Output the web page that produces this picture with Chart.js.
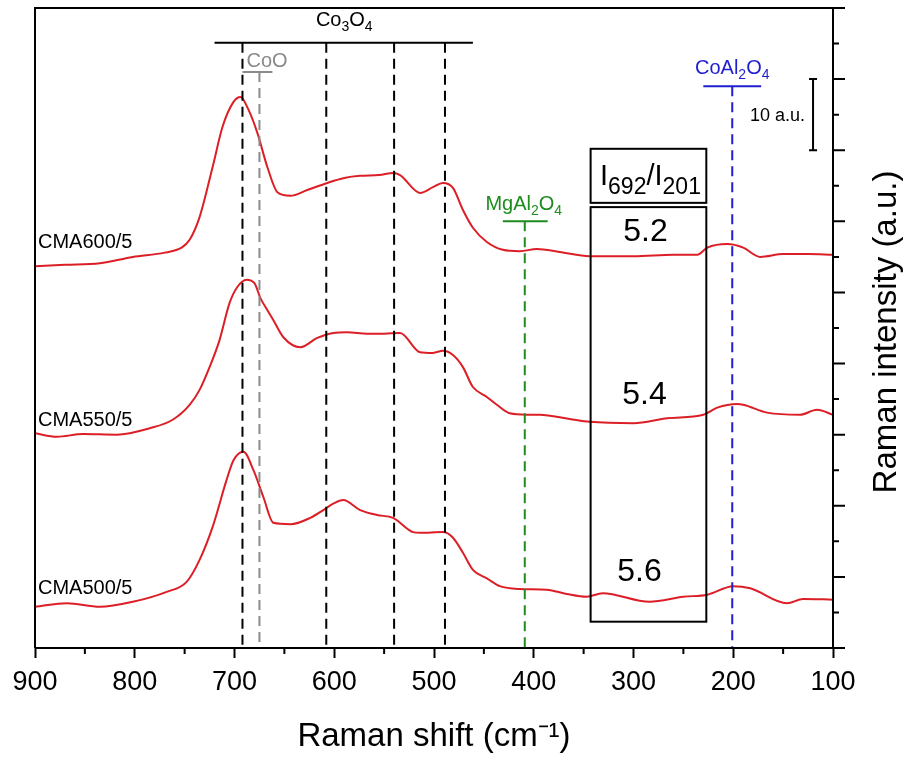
<!DOCTYPE html>
<html>
<head>
<meta charset="utf-8">
<script src="https://cdn.jsdelivr.net/npm/chart.js@4.4.0/dist/chart.umd.min.js"></script>
<style>
  html, body { margin: 0; padding: 0; background: #fff; }
  #wrap { width: 903px; height: 759px; }
</style>
</head>
<body>
<div id="wrap"><canvas id="raman" width="903" height="759"></canvas></div>
<script>
// spectra, stacking offset already included (a.u.)
const shift600 = [900, 870, 835, 802, 770, 753, 745, 735, 722, 712, 701, 694, 686, 677, 667, 657, 644, 627, 607, 590, 574, 555, 541, 534, 514, 501, 491, 481, 471, 461, 447, 431, 414, 397, 374, 344, 300, 260, 236, 226, 206, 190, 173, 150, 125, 100];
const int600 = [53.7, 53.9, 54.1, 55.0, 55.6, 56.3, 57.4, 60.6, 67.6, 73.3, 76.8, 77.5, 75.7, 72.4, 67.6, 64.1, 63.6, 64.4, 65.4, 66.1, 66.4, 66.5, 66.8, 66.5, 64.0, 64.8, 65.4, 64.7, 61.6, 59.1, 57.1, 56.0, 55.8, 56.1, 55.7, 55.1, 55.1, 55.3, 55.3, 56.3, 56.8, 56.3, 55.0, 55.4, 55.4, 55.3];

const shift550 = [900, 878, 852, 818, 785, 762, 745, 735, 725, 715, 705, 697, 688, 680, 674, 667, 661, 651, 634, 617, 601, 587, 567, 550, 534, 514, 501, 491, 481, 471, 461, 447, 437, 424, 407, 394, 364, 344, 300, 266, 230, 216, 196, 190, 166, 133, 116, 100];
const int550 = [30.2, 29.7, 30.1, 30.0, 30.9, 32.1, 34.2, 36.3, 39.5, 43.3, 48.5, 50.8, 51.8, 51.3, 49.2, 47.5, 46.1, 43.7, 42.3, 43.6, 44.3, 44.4, 44.2, 44.2, 44.3, 41.6, 41.5, 41.8, 41.2, 39.5, 36.7, 35.3, 34.2, 33.0, 32.8, 32.8, 32.2, 31.8, 31.6, 32.3, 32.8, 33.8, 34.3, 34.2, 33.1, 32.8, 33.5, 32.8];

const shift500 = [900, 868, 835, 802, 768, 748, 735, 722, 708, 701, 691, 681, 671, 661, 644, 624, 611, 601, 591, 574, 557, 541, 521, 514, 491, 481, 471, 461, 447, 434, 414, 387, 367, 347, 331, 284, 250, 226, 200, 183, 146, 130, 100];
const int500 = [5.8, 6.3, 5.8, 6.5, 7.9, 9.3, 12.4, 17.0, 23.6, 26.4, 27.6, 25.0, 21.2, 17.6, 17.4, 18.3, 19.4, 20.3, 20.8, 19.4, 18.7, 18.3, 16.3, 16.2, 16.3, 15.5, 13.4, 11.0, 9.8, 8.7, 8.3, 8.2, 7.6, 7.2, 7.7, 6.5, 7.2, 7.5, 8.7, 8.4, 6.3, 6.9, 6.8];

const sampleNames = ['CMA600/5', 'CMA550/5', 'CMA500/5'];
const ratioValues = ['5.2', '5.4', '5.6'];

// reference band positions (cm-1)
const co3o4Bands = [692, 608, 540, 489];
const cooBand = 675;
const mgal2o4Band = 409;
const coal2o4Band = 201;

const xTicks = [900, 800, 700, 600, 500, 400, 300, 200, 100];

const RED = '#dc1f26';
const FONT = '"Liberation Sans", Arial, sans-serif';

function pairs(xs, ys) {
  return xs.map((x, i) => ({ x: x, y: ys[i] }));
}

// draw a run of text pieces [text, size, dy] starting at a baseline
function richText(ctx, parts, x, y, color, align) {
  let w = 0;
  parts.forEach(p => { ctx.font = p[1] + 'px ' + FONT; w += ctx.measureText(p[0]).width; });
  let cx = align === 'center' ? x - w / 2 : (align === 'right' ? x - w : x);
  ctx.fillStyle = color;
  ctx.textAlign = 'left';
  ctx.textBaseline = 'alphabetic';
  parts.forEach(p => {
    ctx.font = p[1] + 'px ' + FONT;
    ctx.fillText(p[0], cx, y + (p[2] || 0));
    cx += ctx.measureText(p[0]).width;
  });
}

const decor = {
  id: 'decor',
  afterDatasetsDraw(chart) {
    const ctx = chart.ctx;
    const xs = chart.scales.x, ys = chart.scales.y;
    const a = chart.chartArea;
    const X = v => xs.getPixelForValue(v);
    const Y = v => ys.getPixelForValue(v);
    ctx.save();

    function hline(x1, x2, y, color) {
      ctx.setLineDash([]);
      ctx.strokeStyle = color; ctx.lineWidth = 2;
      ctx.beginPath(); ctx.moveTo(X(x1), Y(y)); ctx.lineTo(X(x2), Y(y)); ctx.stroke();
    }
    function vdash(x, yTop, color) {
      ctx.setLineDash([10, 6]);
      ctx.strokeStyle = color; ctx.lineWidth = 2;
      ctx.beginPath(); ctx.moveTo(X(x), Y(yTop)); ctx.lineTo(X(x), a.bottom); ctx.stroke();
      ctx.setLineDash([]);
    }

    // Co3O4
    hline(720, 461, 85.1, '#000');
    co3o4Bands.forEach(b => vdash(b, 85.1, '#000'));
    richText(ctx, [['Co', 20], ['3', 14, 5], ['O', 20], ['4', 14, 5]], X(590), Y(86.6) - 6, '#000', 'center');

    // CoO
    hline(692, 662, 81, '#8a8a8a');
    vdash(cooBand, 81, '#8a8a8a');
    richText(ctx, [['CoO', 20]], X(688), Y(81) - 5, '#8a8a8a', 'left');

    // MgAl2O4
    hline(431, 386, 60, '#1e8c1e');
    vdash(mgal2o4Band, 60, '#1e8c1e');
    richText(ctx, [['MgAl', 20], ['2', 14, 5], ['O', 20], ['4', 14, 5]], X(410), Y(60) - 11, '#1e8c1e', 'center');

    // CoAl2O4
    hline(230, 172, 79, '#1f1fd0');
    vdash(coal2o4Band, 79, '#1f1fd0');
    richText(ctx, [['CoAl', 20], ['2', 14, 5], ['O', 20], ['4', 14, 5]], X(201), Y(79) - 12, '#1f1fd0', 'center');

    // 10 a.u. scale bar
    ctx.strokeStyle = '#000'; ctx.lineWidth = 2;
    const sx = X(120);
    ctx.beginPath();
    ctx.moveTo(sx, Y(80)); ctx.lineTo(sx, Y(70));
    ctx.moveTo(sx - 4, Y(80)); ctx.lineTo(sx + 4, Y(80));
    ctx.moveTo(sx - 4, Y(70)); ctx.lineTo(sx + 4, Y(70));
    ctx.stroke();
    richText(ctx, [['10 a.u.', 18]], sx - 8, Y(75) + 6, '#000', 'right');

    // ratio table
    ctx.strokeRect(X(343), Y(70.2), X(227) - X(343), Y(62.6) - Y(70.2));
    ctx.strokeRect(X(343), Y(62.0), X(227) - X(343), Y(3.7) - Y(62.0));
    richText(ctx, [['I', 29], ['692', 23, 9], ['/I', 29], ['201', 23, 9]], X(283), Y(65.1), '#000', 'center');
    const ratioY = [58.5, 35.6, 10.7];
    const ratioX = [288, 289, 294];
    ratioValues.forEach((t, i) => {
      ctx.font = '32px ' + FONT;
      ctx.fillStyle = '#000'; ctx.textAlign = 'center'; ctx.textBaseline = 'middle';
      ctx.fillText(t, X(ratioX[i]), Y(ratioY[i]));
    });

    // sample names
    const nameY = [56.25, 31.2, 7.6];
    sampleNames.forEach((n, i) => richText(ctx, [[n, 20]], a.left + 3, Y(nameY[i]), '#000', 'left'));

    // frame
    ctx.strokeStyle = '#000'; ctx.lineWidth = 2;
    ctx.beginPath();
    ctx.moveTo(a.left, a.bottom); ctx.lineTo(a.left, a.top);
    ctx.lineTo(a.right + 12, a.top);
    ctx.moveTo(a.left, a.bottom); ctx.lineTo(a.right + 12, a.bottom);
    ctx.moveTo(a.right, a.top); ctx.lineTo(a.right, a.bottom);
    // right axis ticks (major every 10, minor every 5)
    for (let v = 0; v <= 90; v += 5) {
      const len = v % 10 === 0 ? 12 : 6;
      ctx.moveTo(a.right, Y(v)); ctx.lineTo(a.right + len, Y(v));
    }
    // bottom minor ticks
    for (let v = 150; v < 900; v += 100) {
      ctx.moveTo(X(v), a.bottom); ctx.lineTo(X(v), a.bottom + 6);
    }
    ctx.stroke();

    // right axis title, reading upwards
    ctx.translate(a.right + 54, (a.top + a.bottom) / 2 + 4);
    ctx.rotate(-Math.PI / 2);
    ctx.font = '33px ' + FONT;
    ctx.fillStyle = '#000'; ctx.textAlign = 'center'; ctx.textBaseline = 'middle';
    ctx.fillText('Raman intensity (a.u.)', 0, 0);
    ctx.restore();
  }
};

new Chart(document.getElementById('raman'), {
  type: 'line',
  data: {
    datasets: [
      { label: sampleNames[0], data: pairs(shift600, int600) },
      { label: sampleNames[1], data: pairs(shift550, int550) },
      { label: sampleNames[2], data: pairs(shift500, int500) }
    ].map(d => Object.assign(d, {
      borderColor: RED, borderWidth: 2, pointRadius: 0,
      cubicInterpolationMode: 'monotone', fill: false
    }))
  },
  options: {
    responsive: false,
    animation: false,
    layout: { padding: { left: 35, top: 8, right: 70, bottom: 0 } },
    plugins: { legend: { display: false }, tooltip: { enabled: false } },
    scales: {
      x: {
        type: 'linear', reverse: true, min: 100, max: 900,
        afterBuildTicks: s => { s.ticks = xTicks.map(v => ({ value: v })); },
        afterFit: s => { s.height = 111; },
        border: { display: false },
        grid: { drawOnChartArea: false, tickLength: 10, tickWidth: 2, tickColor: '#000' },
        ticks: { color: '#000', padding: 8, font: { family: FONT, size: 27 }, maxRotation: 0 },
        title: {
          display: true, text: 'Raman shift (cm⁻¹)', color: '#000',
          font: { family: FONT, size: 33 }, padding: { top: 0, bottom: 2 }
        }
      },
      y: { type: 'linear', min: 0, max: 90, display: false }
    }
  },
  plugins: [decor]
});
</script>
</body>
</html>
